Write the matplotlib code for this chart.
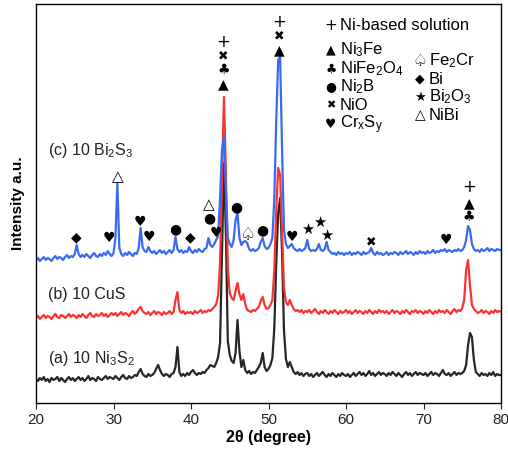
import numpy as np
import matplotlib
matplotlib.use('Agg')
import matplotlib.pyplot as plt

plt.rcParams['font.family'] = ['Liberation Sans', 'DejaVu Sans']
plt.rcParams['mathtext.fontset'] = 'custom'
plt.rcParams['mathtext.rm'] = 'Liberation Sans'
plt.rcParams['mathtext.it'] = 'Liberation Sans:italic'
plt.rcParams['mathtext.bf'] = 'Liberation Sans:bold'
plt.rcParams['mathtext.default'] = 'regular'

# 2theta sampling (deg), 0.25 step from 20 to 80
two_theta = np.arange(20, 80.001, 0.25)

# intensities (a.u.), each row = 5 degrees
ni3s2 = [
    24, 22, 25, 23, 26, 22, 24, 21, 25, 23, 24, 26, 22, 25, 23, 21, 24, 26, 23, 25,
    22, 24, 26, 23, 25, 22, 24, 27, 23, 25, 24, 22, 26, 24, 23, 25, 27, 24, 26, 25,
    24, 27, 25, 23, 26, 28, 25, 24, 27, 25, 26, 28, 27, 31, 34, 29, 27, 26, 29, 27,
    28, 30, 34, 38, 33, 29, 27, 29, 28, 26, 29, 30, 36, 56, 31, 27, 29, 27, 30, 28,
    31, 33, 30, 28, 30, 29, 31, 30, 33, 35, 38, 37, 36, 40, 46, 60, 150, 240, 170, 62,
    48, 42, 40, 50, 83, 52, 36, 43, 33, 30, 32, 29, 31, 30, 33, 36, 40, 50, 36, 32,
    34, 38, 45, 75, 140, 190, 205, 150, 72, 44, 36, 41, 36, 31, 29, 31, 28, 30, 27, 29,
    30, 27, 29, 26, 28, 30, 27, 29, 31, 28, 26, 29, 27, 30, 28, 26, 29, 27, 30, 28,
    27, 29, 26, 28, 30, 27, 29, 31, 28, 30, 27, 29, 32, 28, 30, 27, 29, 31, 28, 30,
    29, 27, 30, 28, 31, 29, 27, 30, 28, 26, 29, 31, 28, 30, 27, 29, 31, 28, 30, 29,
    28, 30, 27, 29, 31, 28, 30, 29, 27, 30, 33, 29, 28, 30, 27, 29, 31, 28, 30, 29,
    30, 32, 38, 58, 70, 66, 43, 31, 29, 27, 30, 28, 29, 27, 30, 28, 31, 27, 29, 28,
    28,
]
cus = [
    20, 22, 19, 21, 23, 20, 22, 21, 19, 22, 24, 21, 20, 23, 22, 20, 22, 24, 21, 23,
    22, 20, 23, 21, 24, 22, 20, 23, 25, 22, 21, 24, 22, 23, 25, 22, 24, 21, 23, 25,
    23, 25, 22, 24, 26, 23, 25, 24, 22, 25, 27, 24, 26, 29, 31, 27, 25, 24, 26, 23,
    25, 27, 24, 26, 25, 23, 26, 24, 25, 27, 24, 26, 38, 46, 28, 25, 27, 24, 26, 25,
    26, 24, 27, 25, 26, 28, 25, 27, 26, 28, 27, 29, 31, 34, 42, 75, 158, 241, 165, 70,
    45, 40, 38, 47, 55, 44, 38, 44, 34, 28, 27, 26, 28, 27, 29, 31, 37, 41, 33, 29,
    30, 33, 38, 68, 128, 170, 163, 105, 50, 36, 33, 38, 33, 29, 27, 28, 26, 28, 25, 27,
    26, 28, 25, 27, 29, 26, 24, 27, 25, 28, 26, 24, 27, 25, 28, 26, 24, 27, 25, 26,
    28, 25, 27, 24, 26, 28, 25, 27, 26, 24, 27, 25, 28, 26, 24, 27, 25, 28, 26, 27,
    25, 27, 24, 26, 28, 25, 27, 26, 24, 27, 25, 28, 26, 24, 27, 26, 28, 25, 27, 26,
    24, 27, 25, 28, 26, 24, 27, 25, 28, 26, 27, 25, 28, 26, 24, 27, 29, 26, 28, 27,
    30, 38, 68, 78, 53, 33, 29, 27, 25, 26, 28, 25, 27, 26, 24, 27, 25, 28, 26, 27,
    26,
]
bi2s3 = [
    18, 20, 17, 19, 21, 18, 20, 19, 17, 20, 22, 19, 21, 20, 18, 21, 23, 20, 22, 21,
    24, 33, 24, 21, 23, 21, 24, 22, 20, 23, 25, 22, 21, 24, 22, 25, 23, 27, 24, 22,
    25, 40, 95, 30, 24, 22, 25, 23, 26, 24, 22, 25, 24, 30, 50, 31, 27, 26, 31, 27,
    25, 27, 24, 26, 28, 25, 27, 24, 26, 28, 25, 28, 41, 29, 26, 28, 25, 27, 26, 31,
    27, 25, 28, 26, 29, 27, 26, 29, 30, 40, 33, 31, 34, 38, 42, 80, 128, 141, 88, 40,
    34, 31, 38, 58, 65, 40, 33, 36, 37, 35, 29, 27, 29, 27, 28, 30, 36, 40, 32, 29,
    30, 34, 40, 80, 158, 218, 221, 128, 48, 34, 30, 32, 34, 30, 28, 27, 29, 27, 28, 30,
    38, 29, 27, 28, 27, 29, 34, 28, 27, 29, 36, 28, 26, 24, 25, 23, 26, 24, 25, 23,
    25, 24, 26, 23, 25, 24, 26, 25, 23, 26, 24, 25, 26, 30, 25, 23, 26, 24, 25, 23,
    24, 26, 23, 25, 24, 26, 25, 23, 26, 24, 25, 27, 24, 26, 25, 23, 26, 24, 27, 25,
    26, 24, 27, 25, 26, 28, 25, 27, 26, 28, 27, 29, 26, 28, 27, 26, 28, 27, 29, 27,
    28, 31, 38, 52, 48, 34, 29, 27, 28, 26, 29, 27, 28, 30, 27, 29, 28, 27, 29, 28,
    28,
]

series_names = [r'(a) 10 Ni$_3$S$_2$', '(b) 10 CuS', r'(c) 10 Bi$_2$S$_3$']

# phase identification marks: (phase, 2theta, height in a.u.)
phase_marks = [
    ('Ni-based solution', 44.2, 361), ('NiO', 44.2, 347), ('NiFe2O4', 44.2, 333), ('Ni3Fe', 44.2, 319),
    ('Ni-based solution', 51.4, 381), ('NiO', 51.4, 367), ('Ni3Fe', 51.4, 353),
    ('Ni-based solution', 75.9, 216), ('Ni3Fe', 75.9, 200), ('NiFe2O4', 75.9, 186),
    ('Bi', 25.25, 166), ('CrxSy', 29.4, 165), ('NiBi', 30.5, 226), ('CrxSy', 33.4, 181),
    ('CrxSy', 34.6, 166), ('Ni2B', 38.0, 174), ('Bi', 39.9, 166), ('Ni2B', 42.3, 185),
    ('NiBi', 42.3, 198), ('CrxSy', 43.2, 170), ('Ni2B', 45.9, 196), ('Fe2Cr', 47.2, 168),
    ('Ni2B', 49.2, 173), ('CrxSy', 53.0, 166), ('Bi2O3', 55.1, 174), ('Bi2O3', 56.6, 181),
    ('Bi2O3', 57.5, 168), ('NiO', 63.2, 161), ('CrxSy', 72.9, 163),
]

glyph = {
    'Ni-based solution': '+', 'Ni3Fe': '\u25B2', 'NiFe2O4': '\u2663', 'Ni2B': '\u25CF',
    'NiO': '\u2716', 'CrxSy': '\u2665', 'Fe2Cr': '\u2664', 'Bi': '\u25C6',
    'Bi2O3': '\u2605', 'NiBi': '\u25B3',
}
glyph_size = {'Ni-based solution': 12, 'NiO': 9, 'NiBi': 11, 'Bi2O3': 10.5, 'Fe2Cr': 13}

legend_col1 = [('Ni-based solution', 'Ni-based solution'), ('Ni3Fe', r'Ni$_3$Fe'),
               ('NiFe2O4', r'NiFe$_2$O$_4$'), ('Ni2B', r'Ni$_2$B'), ('NiO', 'NiO'),
               ('CrxSy', r'Cr$_x$S$_y$')]
legend_col2 = [('Fe2Cr', r'Fe$_2$Cr'), ('Bi', 'Bi'), ('Bi2O3', r'Bi$_2$O$_3$'), ('NiBi', 'NiBi')]

W, H = 508, 454
fig = plt.figure(figsize=(W / 100, H / 100), dpi=100)
ax = fig.add_axes([36 / W, 1 - 403 / H, 465 / W, 399 / H])

colors = ['#262626', '#fa3232', '#3a6af2']
offsets = [0, 65, 125]
for y, c, off in zip([ni3s2, cus, bi2s3], colors, offsets):
    ax.plot(two_theta, np.array(y) + off, color=c, lw=1.6)

for phase, x, h in phase_marks:
    ax.text(x, h, glyph[phase], ha='center', va='center', color='black',
            fontsize=glyph_size.get(phase, 10), family=['DejaVu Sans'])

ax.set_xlim(20, 80)
ax.set_ylim(0, 399)
ax.set_yticks([])
ax.set_xticks([20, 30, 40, 50, 60, 70, 80])
ax.tick_params(axis='x', direction='out', length=4, labelsize=11, colors='#222222')
ax.set_xlabel('2θ (degree)', fontsize=11.5, fontweight='bold', labelpad=2)
ax.set_ylabel('Intensity a.u.', fontsize=11, fontweight='bold', labelpad=8)
for s in ax.spines.values():
    s.set_linewidth(1.0)


def px(x, y):
    return x / W, 1 - y / H


for name, ypix in zip(series_names, [358, 294, 150]):
    fig.text(*px(48, ypix), name, fontsize=11.5, va='center', ha='left', color='#222222')

rows1 = [26, 50, 69, 87, 105, 125]
for (key, lab), ypix in zip(legend_col1, rows1):
    fig.text(*px(331, ypix), glyph[key], fontsize=glyph_size.get(key, 10) - 1, va='center', ha='center',
             family=['DejaVu Sans'])
    fig.text(*px(340, ypix), lab, fontsize=12, va='center', ha='left')
rows2 = [61, 79, 97, 115]
for (key, lab), ypix in zip(legend_col2, rows2):
    fig.text(*px(420, ypix), glyph[key], fontsize=glyph_size.get(key, 10) - 1, va='center', ha='center',
             family=['DejaVu Sans'])
    fig.text(*px(429, ypix), lab, fontsize=12, va='center', ha='left')

fig.savefig('out.png', dpi=100)
